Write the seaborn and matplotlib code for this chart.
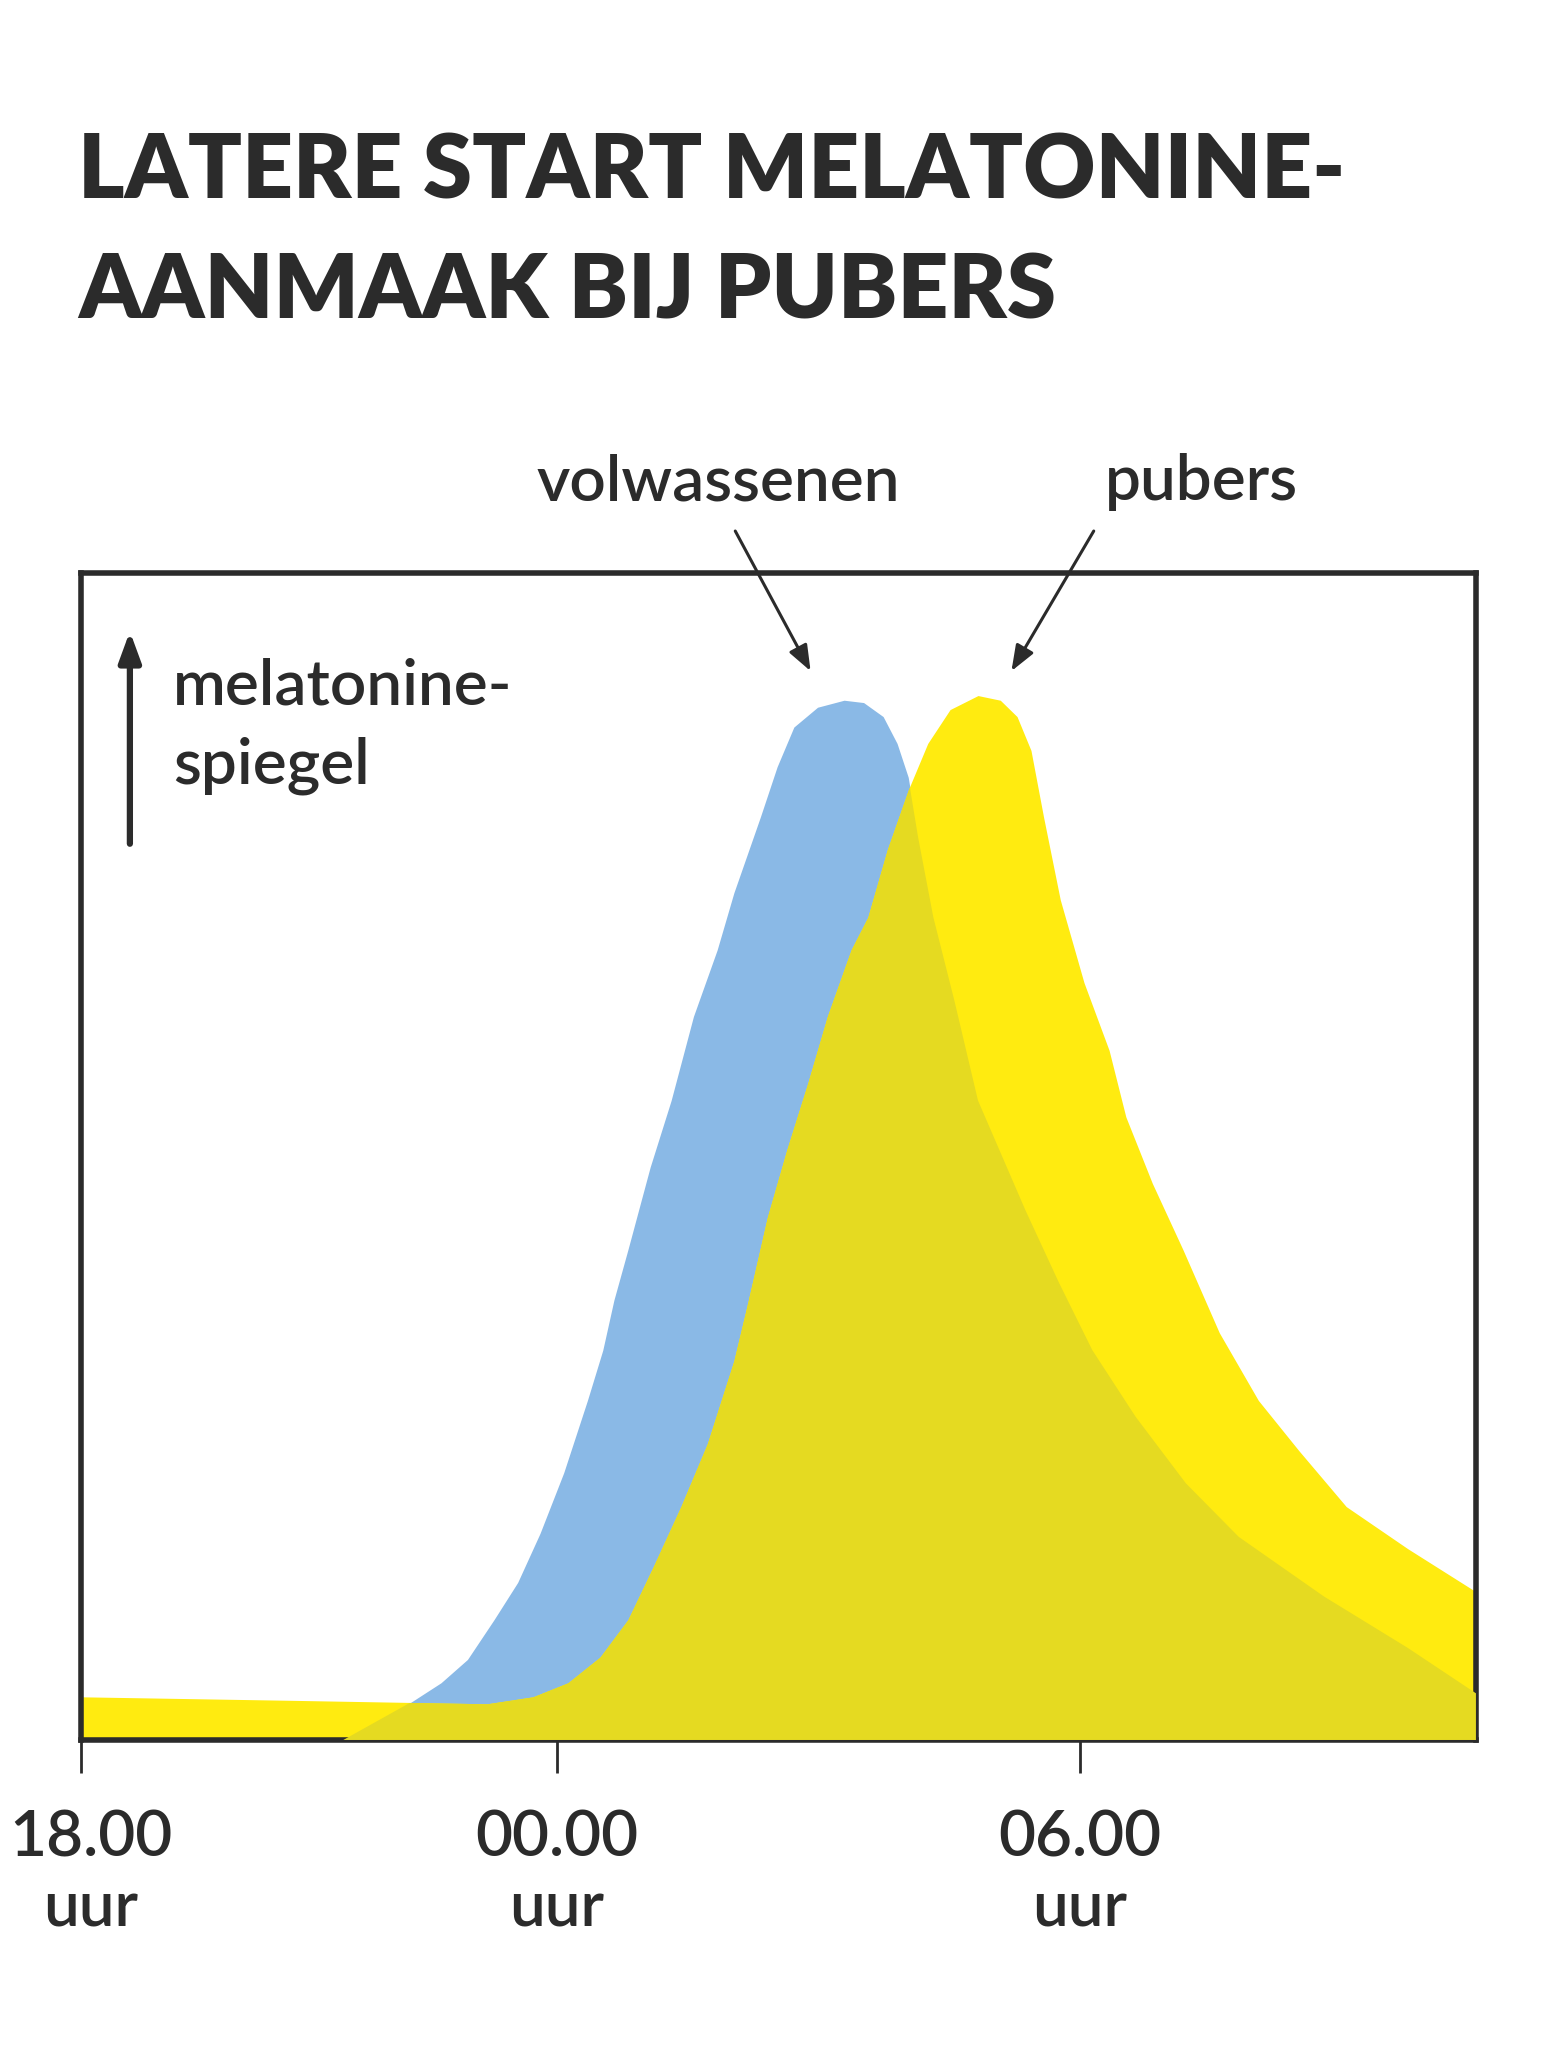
import matplotlib
matplotlib.use("Agg")
import matplotlib.pyplot as plt
import matplotlib.transforms as mtransforms
import seaborn as sns

# melatonin level (x: 0-100 across the box, y: 0-100 box height)
adult_x = [0, 18.8, 23.6, 25.8, 27.7, 29.6, 31.3, 32.9, 34.6, 36.3, 37.4, 38.2,
           39.2, 40.8, 42.3, 43.9, 45.6, 46.8, 48.7, 49.9, 51.1, 52.8, 54.7,
           56.1, 57.5, 58.5, 59.3, 60.0, 61.1, 62.6, 64.3, 67.7, 70.1, 72.5,
           75.6, 79.2, 81.1, 83.0, 89.1, 95.1, 100]
adult_y = [0, 0, 3.2, 4.9, 6.9, 10.3, 13.5, 17.7, 22.9, 29.1, 33.4, 37.7,
           42.0, 49.1, 54.8, 62.0, 67.7, 72.6, 79.1, 83.4, 86.8, 88.5, 89.1,
           88.9, 87.7, 85.4, 82.5, 77.4, 70.5, 63.4, 54.8, 45.4, 39.2, 33.4,
           27.7, 22.0, 19.7, 17.4, 12.3, 7.9, 4.0]

teen_x = [0, 15, 29.1, 32.4, 34.9, 37.2, 39.2, 41.0, 43.0, 44.9, 46.8, 47.8,
          49.2, 50.6, 52.1, 53.5, 55.2, 56.4, 57.8, 59.3, 60.7, 62.3, 64.3,
          65.9, 67.1, 68.1, 69.0, 70.2, 71.9, 73.7, 74.9, 76.8, 79.0, 81.6,
          84.4, 87.3, 90.7, 95.1, 100]
teen_y = [3.7, 3.4, 3.1, 3.7, 4.9, 7.1, 10.3, 14.8, 20.0, 25.4, 32.5, 37.5,
          44.8, 50.6, 56.3, 62.0, 67.7, 70.5, 76.3, 81.4, 85.4, 88.3, 89.5,
          89.1, 87.7, 84.8, 79.1, 72.0, 64.9, 59.1, 53.4, 47.7, 42.0, 34.9,
          29.1, 24.8, 20.0, 16.4, 12.7]

tick_pos = [0, 34.1, 71.6]
tick_labels = ["18.00\nuur", "00.00\nuur", "06.00\nuur"]

title_lines = ["LATERE START MELATONINE-", "AANMAAK BIJ PUBERS"]

BLUE = "#8ab9e6"
YELLOW = "#ffeb10"
OVERLAP = "#e5da21"
INK = "#2b2b2b"

sns.set_theme(style="white")
plt.rcParams["font.family"] = ["Lato", "DejaVu Sans"]

fig = plt.figure(figsize=(15.62, 20.48), dpi=100)
ax = fig.add_axes([0.0519, 0.1504, 0.8930, 0.5698])

blue_poly = ax.fill_between(adult_x, adult_y, 0, color=BLUE, lw=0, zorder=1)
ax.fill_between(teen_x, teen_y, 0, color=YELLOW, lw=0, zorder=2)
# where the two curves overlap the yellow turns a shade darker
over = ax.fill_between(teen_x, teen_y, 0, color=OVERLAP, lw=0, zorder=3)
over.set_clip_path(blue_poly.get_paths()[0], ax.transData)

ax.set_xlim(0, 100)
ax.set_ylim(0, 100)
ax.set_yticks([])
ax.set_xticks(tick_pos)
ax.set_xticklabels(tick_labels, fontsize=46, fontweight="semibold", color=INK,
                   linespacing=1.25)
ax.tick_params(axis="x", bottom=True, length=24, width=2, color=INK, pad=26)
first = ax.get_xticklabels()[0]
first.set_transform(first.get_transform()
                    + mtransforms.ScaledTranslation(0.1, 0, fig.dpi_scale_trans))
for s in ax.spines.values():
    s.set_visible(True)
    s.set_color(INK)
    s.set_linewidth(4)

# y-axis arrow + label inside the box
ax.annotate("", xy=(3.5, 95.0), xytext=(3.5, 76.8),
            arrowprops=dict(arrowstyle="-|>,head_length=1.5,head_width=0.55",
                            color=INK, lw=4.5, shrinkA=0, shrinkB=0))
ax.text(6.6, 90.3, "melatonine-", fontsize=46, fontweight="semibold", color=INK,
        va="center", ha="left")
ax.text(6.6, 83.5, "spiegel", fontsize=46, fontweight="semibold", color=INK,
        va="center", ha="left")

# curve labels above the box
arrow_kw = dict(arrowstyle="-|>,head_length=1.3,head_width=0.5", color=INK,
                lw=2.2, shrinkA=0, shrinkB=0)
ax.text(45.7, 107.8, "volwassenen", fontsize=46, fontweight="semibold", color=INK,
        ha="center", va="center")
ax.annotate("", xy=(52.3, 91.6), xytext=(46.9, 103.6), arrowprops=arrow_kw,
            annotation_clip=False)
ax.text(80.3, 107.8, "pubers", fontsize=46, fontweight="semibold", color=INK,
        ha="center", va="center")
ax.annotate("", xy=(66.7, 91.6), xytext=(72.6, 103.6), arrowprops=arrow_kw,
            annotation_clip=False)

fig.text(0.050, 0.916, title_lines[0], fontsize=64, fontweight="heavy",
         color=INK, ha="left", va="center")
fig.text(0.050, 0.857, title_lines[1], fontsize=64, fontweight="heavy",
         color=INK, ha="left", va="center")

fig.savefig("out.png", dpi=100, facecolor="white")
